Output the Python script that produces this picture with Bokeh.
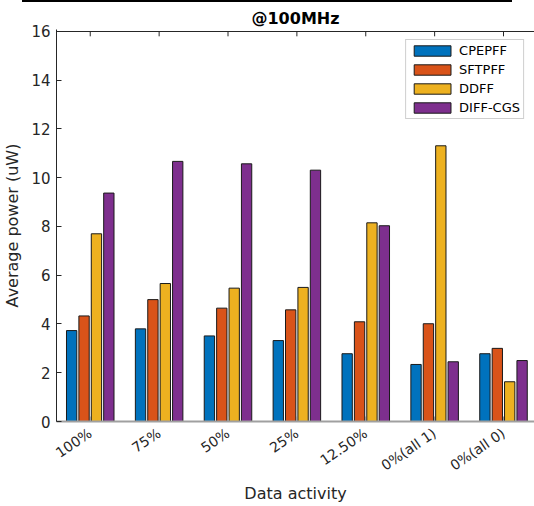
from bokeh.plotting import figure
from bokeh.models import (ColumnDataSource, FixedTicker, Range1d, Legend,
                          LegendItem, Div)
from bokeh.layouts import column
from bokeh.embed import file_html
from bokeh.resources import INLINE

categories = ["100%", "75%", "50%", "25%", "12.50%", "0%(all 1)", "0%(all 0)"]
series = ["CPEPFF", "SFTPFF", "DDFF", "DIFF-CGS"]
cpepff = [3.73, 3.80, 3.51, 3.32, 2.78, 2.34, 2.78]
sftpff = [4.33, 5.00, 4.65, 4.58, 4.09, 4.01, 3.00]
ddff = [7.70, 5.66, 5.47, 5.50, 8.15, 11.31, 1.63]
diffcgs = [9.37, 10.67, 10.57, 10.31, 8.03, 2.45, 2.50]
y_ticks = [0, 2, 4, 6, 8, 10, 12, 14, 16]
y_top = 16

colors = ["#0072BD", "#D95319", "#EDB120", "#7E2F8E"]
offsets = [-0.27, -0.09, 0.09, 0.27]
values = [cpepff, sftpff, ddff, diffcgs]
FONT = "DejaVu Sans"
TXT = "#262626"

p = figure(width=534, height=504, output_backend="svg", toolbar_location=None,
           x_range=Range1d(-0.49, 6.45), y_range=Range1d(0, 16.08),
           min_border_left=54, min_border_right=0, min_border_top=27, min_border_bottom=85)
p.background_fill_color = "white"
p.border_fill_color = "white"
p.outline_line_color = None
p.xgrid.visible = False
p.ygrid.visible = False

p.title.text = "@100MHz"
p.title.align = "center"
p.title.text_font = FONT
p.title.text_font_size = "16px"
p.title.text_font_style = "bold"
p.title.text_color = "#000000"
p.title.standoff = 4

xs = list(range(len(categories)))
items = []
for name, vals, off, col in zip(series, values, offsets, colors):
    src = ColumnDataSource(dict(x=[i + off for i in xs], top=vals))
    r = p.vbar(x="x", top="top", width=0.15, bottom=0, source=src,
               fill_color=col, line_color="#1a1a1a", line_width=1)
    items.append(LegendItem(label=name, renderers=[r]))

# top edge of the axes box, with inward ticks at the categories
p.hspan(y=[y_top], line_color=TXT, line_width=1)
p.segment(x0=xs, x1=xs, y0=[y_top] * len(xs), y1=[y_top - 0.2] * len(xs),
          line_color=TXT, line_width=1)

# x axis (bottom)
xa = p.xaxis[0]
xa.ticker = FixedTicker(ticks=xs)
xa.major_label_overrides = {i: c for i, c in enumerate(categories)}
xa.major_label_orientation = 0.6
xa.major_label_text_font = FONT
xa.major_label_text_font_size = "14px"
xa.major_label_text_color = TXT
xa.major_label_standoff = 10
xa.axis_label = "Data activity"
xa.axis_label_text_font = FONT
xa.axis_label_text_font_size = "16px"
xa.axis_label_text_font_style = "normal"
xa.axis_label_text_color = TXT
xa.axis_label_standoff = 1
xa.axis_line_color = "#a0a0a0"
xa.axis_line_width = 2
xa.major_tick_in = 5
xa.major_tick_out = 0
xa.major_tick_line_color = "#a0a0a0"
xa.minor_tick_line_color = None

# y axis (left)
ya = p.yaxis[0]
ya.ticker = FixedTicker(ticks=y_ticks)
ya.major_label_text_font = FONT
ya.major_label_text_font_size = "15px"
ya.major_label_text_color = TXT
ya.axis_label = "Average power (uW)"
ya.axis_label_text_font = FONT
ya.axis_label_text_font_size = "16px"
ya.axis_label_text_font_style = "normal"
ya.axis_label_text_color = TXT
ya.axis_line_color = TXT
ya.major_tick_in = 5
ya.major_tick_out = 0
ya.major_tick_line_color = TXT
ya.minor_tick_line_color = None
ya.major_label_standoff = 6
ya.axis_label_standoff = 6

legend = Legend(items=items, location="top_right", orientation="vertical")
legend.label_text_font = FONT
legend.label_text_font_size = "13px"
legend.label_text_color = "#000000"
legend.glyph_width = 46
legend.glyph_height = 13
legend.label_height = 13
legend.label_standoff = 4
legend.spacing = 4
legend.padding = 3
legend.margin = 10
legend.border_line_color = "#a0a0a0"
legend.border_line_width = 1
legend.background_fill_color = "white"
legend.background_fill_alpha = 1
p.add_layout(legend, "center")

rule = Div(text="", width=490, height=2, margin=(0, 0, 0, 22),
           styles={"background-color": "#000000"})
page = column(rule, p, spacing=0)

open("out.html", "w").write(file_html(page, INLINE))
